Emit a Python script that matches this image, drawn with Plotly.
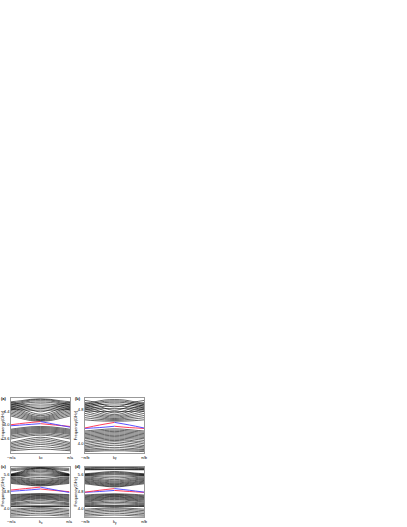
import plotly.graph_objects as go

# ---------------- data ----------------
# k samples (units of pi/lattice const); bulk bands are symmetric in k,
# so each bulk line stores values at k = -1, -2/3, -1/3, 0 and is mirrored.
k_full = [-1.0, -2/3, -1/3, 0.0, 1/3, 2/3, 1.0]
k_left = [-1.0, -0.5, 0.0]
k_right = [0.0, 0.5, 1.0]
k_ticks = [-1.0, 1.0]

# panel (a)
a_upper = [
    [4.26, 4.19, 4.13, 4.11], [4.30, 4.23, 4.16, 4.13], [4.34, 4.27, 4.19, 4.15],
    [4.38, 4.31, 4.22, 4.17], [4.42, 4.35, 4.25, 4.20], [4.46, 4.39, 4.28, 4.23],
    [4.50, 4.43, 4.32, 4.27], [4.55, 4.48, 4.37, 4.31], [4.60, 4.54, 4.44, 4.38],
    [4.65, 4.60, 4.52, 4.47],
    [4.45, 4.44, 4.43, 4.43], [4.48, 4.49, 4.49, 4.49], [4.51, 4.53, 4.55, 4.55],
    [4.54, 4.57, 4.60, 4.61], [4.57, 4.61, 4.65, 4.66], [4.60, 4.64, 4.69, 4.70],
    [4.63, 4.67, 4.72, 4.74], [4.67, 4.70, 4.74, 4.76],
]
a_lower = [
    [3.88, 3.92, 3.95, 3.96], [3.85, 3.89, 3.92, 3.93], [3.82, 3.86, 3.89, 3.90],
    [3.79, 3.83, 3.86, 3.87], [3.76, 3.80, 3.83, 3.84], [3.73, 3.77, 3.80, 3.81],
    [3.69, 3.73, 3.77, 3.78], [3.65, 3.69, 3.73, 3.75], [3.60, 3.65, 3.69, 3.71],
    [3.50, 3.56, 3.62, 3.65], [3.46, 3.52, 3.57, 3.60], [3.42, 3.47, 3.52, 3.55],
    [3.38, 3.43, 3.47, 3.49], [3.34, 3.38, 3.42, 3.44], [3.30, 3.33, 3.36, 3.38],
    [3.26, 3.28, 3.30, 3.31],
]
a_red1, a_blue1 = [4.01, 4.06, 4.10], [4.10, 4.02, 3.94]
a_blue2, a_red2 = [3.98, 4.01, 4.04], [4.04, 4.00, 3.96]

# panel (b)
b_upper = [
    [4.56, 4.54, 4.53, 4.53], [4.61, 4.58, 4.56, 4.55], [4.66, 4.62, 4.59, 4.57],
    [4.71, 4.66, 4.62, 4.59], [4.76, 4.70, 4.65, 4.62], [4.81, 4.75, 4.68, 4.65],
    [4.86, 4.80, 4.72, 4.68], [4.91, 4.85, 4.77, 4.72], [4.96, 4.91, 4.83, 4.78],
    [5.01, 4.97, 4.90, 4.86],
    [4.76, 4.76, 4.75, 4.75], [4.79, 4.81, 4.82, 4.82], [4.82, 4.85, 4.87, 4.88],
    [4.85, 4.89, 4.92, 4.93], [4.88, 4.92, 4.96, 4.97], [4.91, 4.95, 4.99, 5.00],
    [4.94, 4.98, 5.02, 5.03],
]
b_lower = [
    [4.30, 4.32, 4.34, 4.35], [4.27, 4.29, 4.31, 4.32], [4.24, 4.26, 4.28, 4.29],
    [4.21, 4.23, 4.25, 4.26], [4.18, 4.20, 4.22, 4.23], [4.15, 4.17, 4.19, 4.20],
    [4.12, 4.14, 4.16, 4.17], [4.08, 4.11, 4.13, 4.14], [4.04, 4.07, 4.10, 4.11],
    [4.00, 4.04, 4.07, 4.08],
    [3.96, 4.00, 4.03, 4.05], [3.93, 3.96, 3.99, 4.01], [3.90, 3.93, 3.95, 3.97],
    [3.87, 3.89, 3.91, 3.92], [3.85, 3.86, 3.87, 3.88], [3.82, 3.83, 3.84, 3.84],
]
b_red1, b_blue1 = [4.37, 4.44, 4.50], [4.50, 4.44, 4.37]
b_blue2, b_red2 = [4.36, 4.38, 4.41], [4.41, 4.38, 4.36]

# panel (c)
c_upper = [
    [5.20, 5.15, 5.10, 5.08], [5.24, 5.19, 5.13, 5.11], [5.28, 5.23, 5.17, 5.14],
    [5.32, 5.27, 5.20, 5.17], [5.36, 5.31, 5.24, 5.21], [5.40, 5.35, 5.28, 5.25],
    [5.44, 5.39, 5.32, 5.29], [5.48, 5.44, 5.37, 5.34], [5.52, 5.48, 5.42, 5.40],
    [5.57, 5.55, 5.50, 5.48], [5.58, 5.58, 5.57, 5.56], [5.59, 5.61, 5.63, 5.64],
    [5.60, 5.64, 5.69, 5.71], [5.61, 5.67, 5.75, 5.78], [5.62, 5.70, 5.80, 5.84],
    [5.63, 5.73, 5.85, 5.90], [5.65, 5.76, 5.90, 5.95],
    [5.80, 5.84, 5.89, 5.92], [5.86, 5.89, 5.93, 5.96], [5.92, 5.94, 5.97, 5.99],
]
c_lower = [
    [4.66, 4.68, 4.70, 4.71], [4.62, 4.65, 4.67, 4.68], [4.58, 4.61, 4.64, 4.65],
    [4.54, 4.57, 4.60, 4.62], [4.50, 4.53, 4.57, 4.59], [4.46, 4.49, 4.53, 4.56],
    [4.42, 4.45, 4.50, 4.52], [4.37, 4.41, 4.46, 4.48], [4.32, 4.37, 4.42, 4.44],
    [4.26, 4.30, 4.35, 4.37], [4.22, 4.25, 4.29, 4.30], [4.18, 4.20, 4.22, 4.23],
    [4.12, 4.12, 4.12, 4.12], [4.10, 4.10, 4.10, 4.10], [4.08, 4.08, 4.09, 4.09],
    [3.96, 3.99, 4.02, 4.04], [3.89, 3.93, 3.97, 3.98], [3.82, 3.86, 3.90, 3.92],
    [3.75, 3.79, 3.83, 3.85], [3.68, 3.71, 3.75, 3.77], [3.62, 3.64, 3.67, 3.68],
]
c_red1, c_blue1 = [4.88, 4.95, 5.02], [5.02, 4.89, 4.76]
c_blue2, c_red2 = [4.82, 4.87, 4.93], [4.93, 4.86, 4.80]

# panel (d)
d_upper = [
    [5.18, 5.12, 5.06, 5.03], [5.22, 5.16, 5.09, 5.06], [5.26, 5.20, 5.13, 5.10],
    [5.30, 5.24, 5.17, 5.14], [5.34, 5.28, 5.21, 5.18], [5.38, 5.33, 5.25, 5.22],
    [5.42, 5.37, 5.30, 5.27], [5.46, 5.42, 5.35, 5.32], [5.51, 5.47, 5.41, 5.38],
    [5.56, 5.53, 5.48, 5.46], [5.58, 5.57, 5.55, 5.54], [5.60, 5.61, 5.62, 5.62],
    [5.62, 5.64, 5.67, 5.68], [5.64, 5.67, 5.71, 5.73], [5.66, 5.70, 5.75, 5.77],
    [5.85, 5.85, 5.86, 5.86], [5.87, 5.87, 5.88, 5.88], [5.89, 5.89, 5.89, 5.89],
    [5.92, 5.93, 5.95, 5.96], [5.95, 5.96, 5.98, 5.99],
]
d_lower = [
    [4.64, 4.67, 4.69, 4.70], [4.60, 4.63, 4.66, 4.67], [4.56, 4.59, 4.62, 4.64],
    [4.52, 4.55, 4.59, 4.61], [4.48, 4.51, 4.55, 4.58], [4.44, 4.47, 4.52, 4.55],
    [4.40, 4.43, 4.48, 4.51], [4.35, 4.39, 4.44, 4.47], [4.30, 4.35, 4.40, 4.43],
    [4.25, 4.29, 4.34, 4.36], [4.21, 4.24, 4.28, 4.29], [4.17, 4.19, 4.21, 4.22],
    [4.13, 4.13, 4.13, 4.13], [4.11, 4.11, 4.11, 4.11], [4.09, 4.09, 4.10, 4.10],
    [3.96, 3.99, 4.02, 4.04], [3.89, 3.93, 3.97, 3.98], [3.82, 3.86, 3.90, 3.92],
    [3.75, 3.79, 3.83, 3.85], [3.68, 3.71, 3.75, 3.77], [3.62, 3.64, 3.67, 3.68],
]
d_red1, d_blue1 = [4.78, 4.87, 4.95], [4.95, 4.87, 4.78]
d_blue2, d_red2 = [4.77, 4.81, 4.86], [4.86, 4.81, 4.77]

panel_names = ["(a)", "(b)", "(c)", "(d)"]
y_ranges = [[3.21, 4.77], [3.80, 5.06], [3.60, 6.00], [3.60, 6.00]]
y_ticks = [[3.6, 4.0, 4.4], [4.0, 4.8], [4.0, 4.8, 5.6], [4.0, 4.8, 5.6]]
x_edge_labels = [["\u2212\u03c0/a", "\u03c0/a"], ["\u2212\u03c0/b", "\u03c0/b"],
                 ["\u2212\u03c0/a", "\u03c0/a"], ["\u2212\u03c0/b", "\u03c0/b"]]
x_center_sub = ["x", "y", "x", "y"]
y_title = "Frequency(GHz)"

# ---------------- figure ----------------
W, H = 407, 527
frames_px = [(11, 70, 398.3, 452.5), (85, 144, 398.3, 452.5),
             (11, 69.5, 466.7, 516.7), (85, 144, 466.7, 516.7)]
xlabel_y_px = [457.0, 457.0, 521.3, 521.3]

bulk = [a_upper + a_lower, b_upper + b_lower, c_upper + c_lower, d_upper + d_lower]
edges = [(a_red1, a_blue1, a_blue2, a_red2), (b_red1, b_blue1, b_blue2, b_red2),
         (c_red1, c_blue1, c_blue2, c_red2), (d_red1, d_blue1, d_blue2, d_red2)]

RED = "rgb(255,40,70)"
BLUE = "rgb(70,60,255)"
FONT = "Liberation Sans"

fig = go.Figure()
layout = dict(width=W, height=H, margin=dict(l=0, r=0, t=0, b=0),
              paper_bgcolor="white", plot_bgcolor="white", showlegend=False,
              font=dict(family=FONT, size=4, color="black"))
annotations = []


def label(text, xref, x, ypx, size=4, xanchor="center", xshift=0, yshift=0, weight="normal"):
    return dict(text=text, xref=xref, yref="paper", x=x, y=1 - ypx / H,
                xanchor=xanchor, yanchor="middle", showarrow=False,
                xshift=xshift, yshift=yshift, borderpad=0, borderwidth=0,
                font=dict(size=size, family=FONT, color="black", weight=weight))


for i in range(4):
    sx = "" if i == 0 else str(i + 1)
    xa, ya = "x" + sx, "y" + sx
    for half in bulk[i]:
        yy = half + half[-2::-1]
        fig.add_trace(go.Scatter(x=k_full, y=yy, mode="lines", xaxis=xa, yaxis=ya,
                                 line=dict(color="black", width=0.6, shape="spline"),
                                 hoverinfo="skip"))
    r1, b1, b2, r2 = edges[i]
    for xs, ys, col in [(k_left, b2, BLUE), (k_right, r2, RED),
                        (k_left, r1, RED), (k_right, b1, BLUE)]:
        fig.add_trace(go.Scatter(x=xs, y=ys, mode="lines", xaxis=xa, yaxis=ya,
                                 line=dict(color=col, width=0.9, shape="spline"),
                                 hoverinfo="skip"))
    x0, x1, y0, y1 = frames_px[i]
    layout["xaxis" + sx] = dict(
        domain=[x0 / W, x1 / W], anchor=ya, range=[-1, 1],
        showticklabels=False, ticks="",
        showgrid=False, zeroline=False, showline=True, mirror=True,
        linecolor="#999999", linewidth=0.6)
    layout["yaxis" + sx] = dict(
        domain=[1 - y1 / H, 1 - y0 / H], anchor=xa, range=y_ranges[i],
        tickvals=y_ticks[i], ticktext=["%.1f" % v for v in y_ticks[i]], ticks="",
        showgrid=False, zeroline=False, showline=True, mirror=True,
        linecolor="#999999", linewidth=0.6,
        tickfont=dict(size=4, family=FONT, color="black"),
        ticklabelstandoff=0,
        title=dict(text=y_title, font=dict(size=4, family=FONT, color="black"),
                   standoff=0))
    # x tick labels at the zone edges and the k label at the centre
    for kv, txt in zip(k_ticks, x_edge_labels[i]):
        annotations.append(label(txt, xa, kv, xlabel_y_px[i]))
    annotations.append(label("k", xa, 0.0, xlabel_y_px[i], xanchor="right", xshift=0.5))
    annotations.append(label(x_center_sub[i], xa, 0.0, xlabel_y_px[i], size=3,
                             xanchor="left", xshift=0.3, yshift=-1.2))
    annotations.append(dict(text=panel_names[i], xref="paper", yref="paper",
                            x=(x0 - 10) / W, y=1 - y0 / H, xanchor="left", yanchor="middle",
                            showarrow=False, borderpad=0, borderwidth=0,
                            font=dict(size=4, family=FONT, color="black", weight="bold")))

layout["annotations"] = annotations
fig.update_layout(**layout)
fig.write_html("out.html", config={"displayModeBar": False},
               post_script="document.body.style.margin='0';document.body.style.overflow='hidden';")
